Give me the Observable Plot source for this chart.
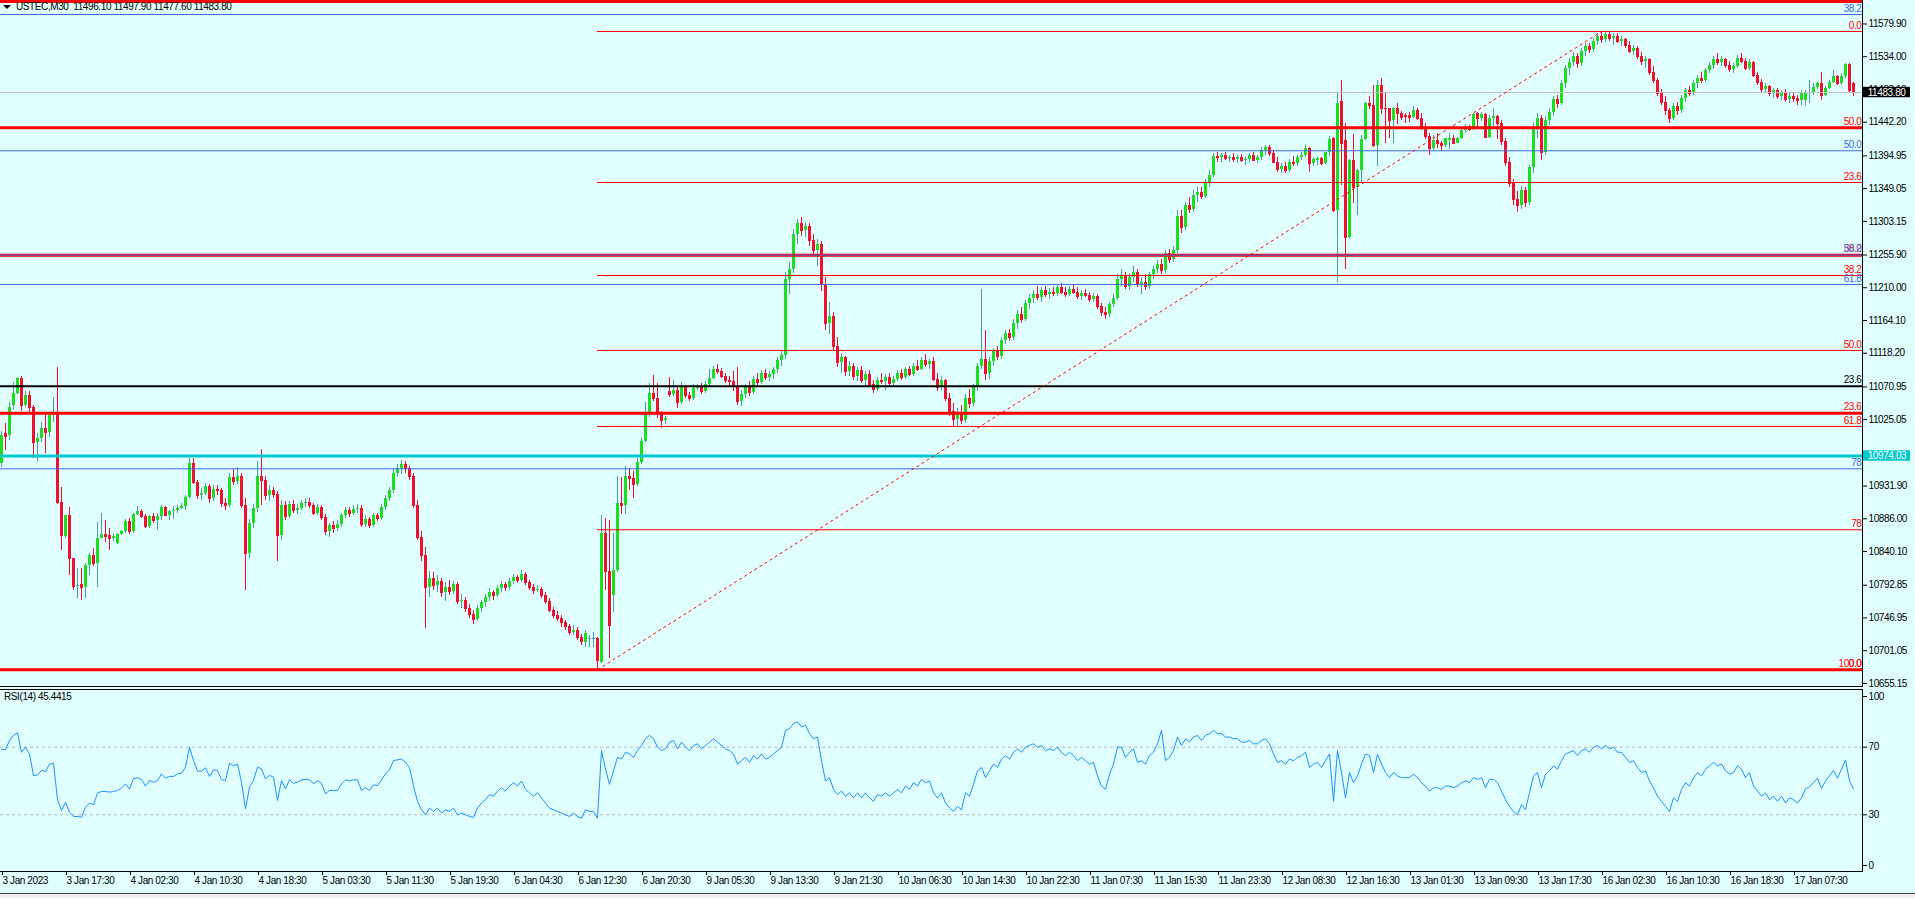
<!DOCTYPE html>
<html><head><meta charset="utf-8">
<script src="https://cdn.jsdelivr.net/npm/d3@7"></script>
<script src="https://cdn.jsdelivr.net/npm/@observablehq/plot@0.6"></script>
<style>
html,body{margin:0;padding:0;background:#e0ffff;}
#wrap{position:relative;width:1915px;height:898px;overflow:hidden;background:#e0ffff;font-family:"Liberation Sans",Arial,sans-serif;}
#main,#rsi{position:absolute;left:0;}
#main{top:0;} #rsi{top:689px;}
svg text{letter-spacing:-0.4px;}
.hdr{position:absolute;font-size:10px;color:#000;letter-spacing:-0.4px;white-space:pre;line-height:12px;}
.tri{position:absolute;left:3px;top:5px;width:0;height:0;border-left:4px solid transparent;border-right:4px solid transparent;border-top:4px solid #000;}
.ln{position:absolute;background:#000;}
</style></head>
<body><div id="wrap">
<div id="main"></div><div id="rsi"></div>
<div class="tri"></div>
<div class="hdr" id="title" style="left:16px;top:1px;"></div>
<div class="hdr" id="rsiTitle" style="left:4px;top:691px;"></div>
<div class="ln" style="left:0;top:686px;width:1863px;height:1px;"></div>
<div class="ln" style="left:0;top:689px;width:1863px;height:1px;"></div>
<div class="ln" style="left:0;top:871px;width:1863px;height:1px;"></div>
<div class="ln" style="left:1862px;top:0;width:1px;height:687px;"></div>
<div class="ln" style="left:1862px;top:689px;width:1px;height:183px;"></div>
<div style="position:absolute;left:0;top:893px;width:1915px;height:5px;background:#f0f0f0;border-top:1px solid #444;"></div>
</div>
<script>
// ---------- header ----------
const symbol = "USTEC,M30";
const lastOHLC = ["11496.10", "11497.90", "11477.60", "11483.80"];
const rsiName = "RSI(14)";
const rsiLast = "45.4415";

// ---------- M30 candles, one entry per bar (bar 0 = 3 Jan 09:30) ----------
const candleOpen = [
10963,11006,11003,11045,11062,11083,11045,11059,11042,10993,
10999,11013,11007,11031,11035,10909,10861,10890,10830,10792,
10794,10790,10820,10834,10823,10858,10864,10862,10858,10852,
10864,10868,10882,10868,10892,10896,10889,10875,10889,10883,
10889,10902,10891,10896,10898,10901,10903,10916,10964,10937,
10918,10922,10931,10914,10927,10925,10908,10905,10944,10938,
10946,10905,10838,10880,10900,10945,10940,10918,10925,10920,
10862,10905,10889,10906,10898,10901,10907,10909,10904,10894,
10902,10888,10868,10876,10872,10878,10890,10898,10893,10899,
10901,10878,10885,10877,10890,10887,10902,10914,10926,10950,
10956,10962,10956,10946,10905,10860,10834,10790,10802,10792,
10798,10782,10790,10784,10794,10770,10772,10760,10752,10745,
10760,10768,10775,10782,10779,10788,10794,10790,10798,10803,
10800,10808,10796,10790,10785,10787,10778,10770,10758,10750,
10746,10740,10735,10727,10730,10720,10712,10718,10718,10718,
10685,10865,10812,10778,10814,10907,10905,10946,10942,10934,
10965,10995,11032,11062,11055,11033,11024,11064,11060,11066,
11049,11072,11059,11054,11069,11072,11064,11074,11083,11095,
11092,11086,11080,11078,11072,11050,11060,11070,11063,11081,
11077,11090,11084,11088,11095,11108,11115,11222,11236,11285,
11300,11290,11296,11276,11262,11270,11215,11160,11170,11128,
11105,11112,11092,11100,11085,11094,11080,11088,11074,11068,
11080,11078,11084,11076,11082,11090,11084,11095,11089,11100,
11096,11108,11102,11106,11082,11070,11080,11055,11036,11025,
11034,11024,11055,11048,11070,11100,11110,11090,11106,11120,
11114,11136,11146,11140,11160,11172,11166,11188,11195,11200,
11196,11206,11200,11204,11202,11210,11204,11200,11208,11203,
11198,11202,11199,11194,11198,11184,11176,11172,11186,11195,
11222,11226,11212,11225,11232,11214,11218,11212,11228,11236,
11242,11234,11258,11250,11262,11310,11294,11325,11320,11340,
11344,11338,11358,11368,11394,11392,11395,11391,11393,11390,
11392,11388,11390,11395,11389,11392,11402,11406,11398,11386,
11376,11380,11374,11386,11384,11392,11396,11405,11384,11388,
11391,11384,11399,11419,11318,11471,11416,11280,11388,11351,
11374,11418,11469,11465,11409,11494,11462,11461,11445,11461,
11455,11452,11452,11449,11458,11447,11435,11422,11405,11416,
11413,11410,11417,11420,11413,11419,11431,11436,11432,11455,
11448,11453,11421,11447,11450,11441,11415,11386,11356,11334,
11325,11346,11330,11378,11432,11448,11400,11445,11456,11474,
11468,11496,11518,11526,11534,11524,11541,11548,11544,11556,
11562,11558,11565,11560,11563,11556,11558,11550,11542,11546,
11535,11527,11530,11512,11500,11482,11470,11458,11448,11464,
11458,11476,11486,11482,11496,11504,11500,11514,11522,11530,
11526,11530,11522,11516,11520,11532,11528,11518,11526,11508,
11498,11488,11492,11482,11486,11478,11482,11474,11478,11476,
11473,11473,11484,11484,11491,11496,11480,11490,11498,11506,
11496,11506,11523,11496.1];
const candleHigh = [
11008,11019,11049,11077,11084,11086,11065,11065,11045,11006,
11021,11034,11034,11056,11098,10930,10890,10902,10831,10816,
10816,10823,10838,10845,10881,10893,10884,10872,10866,10866,
10870,10885,10886,10893,10903,10899,10892,10891,10893,10893,
10905,10903,10898,10903,10905,10908,10918,10970,10970,10939,
10928,10936,10934,10932,10933,10928,10915,10950,10955,10958,
10950,10915,10885,10906,10966,10983,10946,10932,10930,10924,
10912,10910,10910,10912,10906,10912,10914,10914,10908,10906,
10905,10892,10880,10882,10884,10894,10902,10902,10904,10906,
10904,10890,10888,10894,10894,10906,10918,10930,10955,10962,
10968,10966,10960,10950,10912,10868,10846,10812,10810,10806,
10802,10796,10800,10798,10796,10780,10776,10766,10758,10764,
10772,10780,10788,10786,10792,10798,10797,10802,10808,10806,
10814,10810,10800,10794,10792,10790,10782,10774,10762,10756,
10750,10744,10738,10736,10733,10724,10730,10722,10727,10720,
10891,10886,10884,10865,10946,10944,10960,10957,10953,10971,
10998,11049,11076,11087,11076,11037,11030,11084,11080,11072,
11077,11073,11063,11075,11075,11076,11078,11096,11100,11102,
11097,11090,11085,11092,11098,11066,11075,11078,11085,11090,
11094,11096,11093,11098,11112,11120,11232,11246,11292,11306,
11308,11302,11300,11284,11278,11275,11225,11190,11175,11140,
11118,11114,11106,11104,11098,11100,11092,11094,11080,11084,
11090,11088,11090,11086,11094,11096,11098,11100,11104,11108,
11112,11116,11110,11112,11090,11086,11082,11062,11048,11040,
11045,11060,11068,11075,11104,11207,11150,11112,11125,11128,
11140,11150,11152,11165,11178,11182,11192,11200,11206,11212,
11210,11212,11209,11210,11214,11216,11210,11212,11214,11210,
11206,11208,11204,11202,11200,11188,11182,11190,11200,11228,
11236,11232,11230,11240,11236,11224,11228,11232,11240,11248,
11250,11262,11264,11268,11318,11318,11330,11336,11346,11350,
11350,11362,11374,11398,11400,11398,11400,11396,11398,11396,
11397,11394,11398,11399,11396,11406,11410,11410,11402,11392,
11384,11386,11390,11394,11396,11400,11410,11406,11392,11392,
11393,11400,11422,11421,11484,11501,11440,11390,11425,11376,
11423,11470,11478,11493,11500,11504,11484,11462,11463,11469,
11457,11454,11456,11464,11462,11455,11440,11427,11423,11427,
11415,11420,11426,11423,11421,11433,11439,11437,11454,11456,
11456,11454,11452,11461,11452,11445,11420,11392,11362,11345,
11352,11350,11382,11440,11455,11452,11450,11462,11478,11480,
11500,11522,11532,11540,11538,11545,11552,11553,11560,11566,
11569,11568,11569,11566,11566,11562,11560,11555,11550,11548,
11540,11534,11532,11520,11504,11488,11478,11462,11468,11470,
11480,11490,11492,11500,11508,11512,11518,11526,11534,11538,
11534,11532,11528,11524,11536,11538,11532,11530,11528,11512,
11502,11496,11494,11490,11490,11486,11488,11482,11484,11480,
11487,11486,11500,11496,11498,11512,11492,11500,11515,11508,
11510,11524,11524,11497.9];
const candleLow = [
10958,10982,10996,11039,11060,11036,11042,11034,10970,10967,
10993,10977,11000,11021,10906,10842,10858,10806,10785,10774,
10772,10774,10806,10819,10790,10858,10853,10842,10854,10850,
10862,10866,10864,10866,10891,10886,10873,10873,10880,10870,
10884,10889,10884,10885,10894,10899,10897,10914,10934,10913,
10912,10918,10908,10910,10918,10902,10898,10902,10932,10934,
10900,10786,10830,10872,10895,10905,10912,10910,10914,10826,
10855,10884,10886,10894,10892,10898,10902,10900,10890,10890,
10884,10862,10860,10866,10868,10874,10886,10888,10890,10894,
10874,10874,10872,10874,10882,10884,10898,10910,10922,10944,
10948,10950,10940,10900,10856,10826,10732,10776,10786,10782,
10776,10770,10778,10780,10766,10760,10754,10746,10738,10742,
10755,10762,10770,10772,10776,10782,10784,10786,10794,10795,
10797,10792,10786,10780,10782,10774,10766,10754,10746,10742,
10734,10730,10722,10722,10716,10708,10705,10706,10705,10674,
10683,10785,10690,10755,10810,10892,10892,10925,10915,10931,
10962,10993,11028,11050,11026,11013,11018,11056,11058,11041,
11046,11054,11050,11052,11066,11060,11062,11072,11081,11088,
11083,11076,11071,11064,11045,11044,11055,11058,11060,11072,
11074,11080,11078,11082,11090,11100,11110,11200,11230,11270,
11282,11280,11268,11255,11240,11205,11150,11145,11120,11098,
11090,11086,11085,11080,11078,11076,11072,11070,11062,11064,
11074,11066,11072,11070,11078,11080,11082,11085,11086,11092,
11094,11098,11095,11078,11064,11066,11050,11030,11016,11014,
11018,11020,11040,11044,11064,11096,11080,11082,11100,11108,
11110,11130,11134,11136,11152,11160,11162,11180,11188,11192,
11190,11196,11194,11198,11198,11200,11196,11198,11200,11194,
11192,11196,11190,11190,11180,11170,11166,11168,11182,11192,
11212,11208,11206,11218,11210,11200,11206,11208,11222,11230,
11228,11230,11244,11246,11258,11286,11290,11314,11316,11330,
11334,11335,11350,11364,11386,11385,11388,11385,11386,11384,
11386,11382,11386,11387,11384,11388,11396,11394,11384,11372,
11370,11370,11372,11380,11380,11388,11393,11371,11380,11382,
11382,11383,11394,11316,11218,11353,11235,11278,11328,11311,
11356,11416,11460,11407,11380,11453,11413,11420,11412,11439,
11444,11440,11442,11448,11444,11430,11418,11396,11402,11405,
11401,11407,11404,11412,11413,11418,11427,11429,11430,11432,
11443,11420,11419,11436,11418,11410,11380,11350,11325,11316,
11320,11322,11326,11370,11420,11388,11395,11438,11450,11462,
11465,11490,11508,11520,11518,11520,11534,11538,11540,11550,
11552,11554,11556,11550,11552,11548,11546,11538,11536,11530,
11522,11518,11508,11496,11478,11465,11452,11440,11444,11452,
11454,11470,11478,11480,11490,11496,11498,11510,11516,11522,
11520,11518,11512,11510,11518,11524,11514,11515,11505,11494,
11484,11482,11478,11476,11474,11472,11470,11468,11470,11466,
11466,11464,11468,11480,11488,11473,11478,11488,11496,11494,
11494,11504,11484,11477.6];
const candleClose = [
11003,11002,11042,11062,11083,11045,11059,11042,10993,10999,
11013,11007,11031,11035,10909,10863,10890,10830,10791,10792,
10790,10820,10834,10823,10858,10864,10861,10858,10861,10864,
10868,10882,10868,10892,10896,10889,10875,10889,10883,10889,
10902,10891,10896,10898,10901,10903,10916,10964,10937,10918,
10922,10931,10914,10927,10925,10908,10905,10944,10938,10946,
10905,10838,10880,10900,10945,10940,10918,10925,10920,10862,
10905,10889,10906,10898,10901,10907,10909,10904,10894,10902,
10888,10868,10876,10872,10878,10890,10898,10893,10899,10901,
10878,10885,10877,10890,10887,10902,10914,10926,10950,10956,
10962,10956,10946,10905,10860,10834,10790,10802,10792,10798,
10782,10790,10784,10794,10770,10772,10760,10752,10745,10760,
10768,10775,10782,10779,10788,10794,10790,10798,10803,10800,
10808,10796,10790,10785,10787,10778,10770,10758,10750,10746,
10740,10735,10727,10730,10720,10714,10725,10718,10718,10687,
10865,10812,10736,10814,10907,10905,10946,10942,10934,10965,
10995,11032,11062,11055,11033,11024,11027,11060,11066,11049,
11072,11059,11054,11069,11072,11064,11074,11083,11095,11092,
11086,11080,11078,11072,11050,11060,11070,11063,11081,11077,
11090,11084,11088,11095,11108,11115,11222,11236,11285,11300,
11290,11296,11276,11262,11270,11215,11160,11170,11128,11105,
11112,11092,11100,11085,11094,11080,11088,11074,11068,11080,
11078,11084,11076,11082,11090,11084,11095,11089,11100,11096,
11108,11102,11106,11082,11070,11080,11055,11036,11025,11034,
11024,11055,11048,11070,11100,11110,11090,11106,11120,11114,
11136,11146,11140,11160,11172,11166,11188,11195,11200,11196,
11206,11200,11204,11202,11210,11204,11200,11208,11203,11198,
11202,11199,11194,11198,11184,11176,11172,11186,11195,11222,
11226,11212,11225,11232,11214,11218,11212,11228,11236,11242,
11234,11258,11250,11262,11310,11294,11325,11320,11340,11344,
11338,11358,11368,11394,11392,11395,11391,11393,11390,11392,
11388,11390,11395,11389,11392,11402,11406,11398,11386,11376,
11380,11374,11386,11384,11392,11396,11405,11384,11390,11391,
11384,11399,11418,11318,11469,11412,11280,11388,11351,11374,
11418,11469,11465,11409,11494,11462,11461,11445,11461,11455,
11449,11450,11449,11458,11447,11435,11422,11405,11416,11413,
11410,11419,11420,11413,11419,11431,11435,11432,11453,11448,
11453,11421,11447,11450,11441,11415,11386,11356,11334,11325,
11346,11330,11378,11432,11448,11400,11445,11456,11474,11468,
11496,11518,11526,11534,11524,11541,11548,11544,11556,11562,
11558,11565,11560,11563,11556,11558,11550,11542,11546,11535,
11527,11530,11512,11500,11482,11470,11458,11448,11464,11458,
11476,11486,11482,11496,11504,11500,11514,11522,11530,11526,
11530,11522,11516,11520,11532,11528,11518,11526,11508,11498,
11488,11492,11482,11486,11478,11482,11474,11478,11476,11473,
11484,11482,11484,11491,11496,11480,11490,11498,11506,11496,
11506,11523,11487,11483.8];

// ---------- RSI(14), one value per bar ----------
const rsiValues = [
68.6,68.6,74,77,78.5,67,70,66,53.3,53.5,
56.4,55.6,60,60.4,39,32.5,37.5,31.5,29,29,
28.6,34.5,36.9,36,42.8,43.8,43.8,43.4,43.8,44.4,
45.7,48.3,45.3,51.3,51.9,50.9,47,50.3,49.3,50.3,
54.2,51.7,52.7,52.7,54.2,54.6,58.2,70,62.1,55.8,
55.8,57.8,52.7,56.6,56.2,50.7,50.3,60.5,59,60,
49.3,33.5,46.3,50.3,58.2,57.2,51.3,53.3,52.3,38.5,
50.3,45.3,50.7,48.7,49.3,50.7,51,50.7,48.3,50.3,
48.7,42.4,44.4,44.4,44.4,48.3,50.7,50,50.7,50.7,
44.4,46,44.4,47.7,47.3,50.7,54.2,56.6,62.1,62.5,
63,61,58,47,38,33,30,34,32,34,
31,33,32,34,30,31,30,29,28.5,34,
37,39,42,41,44,46,44,47,49,47,
50,45,43,41,43,40,37,34,33,32,
31,30,29,31,29,28,33,32,32,28,
68,57,48,56,64,63,67,66,64,68,
71,75,77,75,70,68,69,73,74,69,
73,70,68,71,72,69,71,73,75,73,
71,69,68,66,60,62,64,61,65,63,
66,63,64,66,68,70,80,81,84,85,
82,83,78,75,76,62,50,52,45,42,
44,41,43,40,43,40,43,40,38,42,
41,43,41,43,45,43,47,45,49,47,
51,49,50,43,40,43,37,34,32,35,
33,43,41,48,56,58,52,56,60,58,
63,65,63,67,69,67,70,71,72,70,
71,68,69,68,70,67,65,67,65,62,
64,62,60,61,53,47,45,54,60,70,
70,64,67,69,61,62,60,65,67,72,
80,62,64,68,76,71,75,73,76,77,
74,77,78,80,78,78,76,76,75,75,
73,73,74,72,72,74,75,72,66,61,
62,60,63,62,64,65,67,58,60,61,
58,62,66,38,68,55,40,55,49,53,
60,66,65,55,66,60,55,52,55,53,
52,52,52,54,52,49,47,44,46,46,
45,47,47,46,47,49,50,49,52,51,
52,46,51,51,49,44,39,35,32,30,
36,33,43,53,55,46,54,56,59,57,
62,66,67,68,65,68,69,67,70,71,
69,71,69,70,67,67,64,61,62,58,
55,56,50,46,41,38,35,32,40,38,
45,49,47,52,55,53,57,59,61,59,
60,56,54,55,59,57,52,55,47,44,
41,43,39,41,38,41,37,40,39,37,
40,45.5,46.5,49,51.7,45.5,50,53,56.2,51.7,
57,62.5,50,45.4];

// ---------- horizontal objects ----------
const current = 11483.80;
const thickRedPrices = [11611.5, 11434.3, 11255.7, 11034.1, 10674.3];
const thickRedLabels = ["61.8", "50.0", "38.2", "23.6", "0.0"];
const fibRedPrices = [11569.4, 11357.6, 11227.2, 11122.1, 11015.5, 10870.6, 10674.3];
const fibRedLabels = ["0.0", "23.6", "38.2", "50.0", "61.8", "78", "100.0"];
const fibLowBar = 149, fibLowPrice = 10674.3, fibHighBar = 400, fibHighPrice = 11569.4;
const blueFibPrices = [11593.2, 11402.1, 11255.7, 11214.6, 10956.1];
const blueFibLabels = ["38.2", "50.0", "50.0", "61.8", "78"];
const blackLinePrice = 11072.0, blackLineLabel = "23.6";
const cyanLinePrice = 10974.03;

// ---------- axes ----------
const priceTicks = [11579.90,11534.00,11488.10,11442.20,11394.95,11349.05,11303.15,11255.90,11210.00,11164.10,11118.20,11070.95,11025.05,10931.90,10886.00,10840.10,10792.85,10746.95,10701.05,10655.15];
const rsiTicks = [100, 70, 30, 0];
const rsiLevels = [70, 30];
const timeLabels = ["3 Jan 2023","3 Jan 17:30","4 Jan 02:30","4 Jan 10:30","4 Jan 18:30","5 Jan 03:30","5 Jan 11:30","5 Jan 19:30","6 Jan 04:30","6 Jan 12:30","6 Jan 20:30","9 Jan 05:30","9 Jan 13:30","9 Jan 21:30","10 Jan 06:30","10 Jan 14:30","10 Jan 22:30","11 Jan 07:30","11 Jan 15:30","11 Jan 23:30","12 Jan 08:30","12 Jan 16:30","13 Jan 01:30","13 Jan 09:30","13 Jan 17:30","16 Jan 02:30","16 Jan 10:30","16 Jan 18:30","17 Jan 07:30"];
const barsPerLabel = 16;

// ---------- build ----------
document.getElementById("title").textContent = symbol + "  " + lastOHLC.join(" ");
document.getElementById("rsiTitle").textContent = rsiName + " " + rsiLast;

const bars = candleClose.map((c, i) => ({i, o: candleOpen[i], h: candleHigh[i], l: candleLow[i], c}));
const UP = "#20dc20", WICK_UP = "#4f9ea6", DN = "#ee1030";
const wickColor = d => d.c < d.o ? DN : WICK_UP;
const bodyColor = d => d.c > d.o ? UP : d.c < d.o ? DN : WICK_UP;

const xDomain = [-0.25, 465.25];
const yDomain = [10646.6, 11612.85];
const font = {fontFamily: "'Liberation Sans', Arial, sans-serif", fontSize: "10px", background: "transparent", color: "#000", overflow: "visible"};
const RED = "#ff0000", BLUE = "#4169e1";
const lastX = xDomain[1];
// a level's label sits just above its line; labels whose text would fall above the window are not drawn
const lbl = (prices, labels, color) => Plot.text(
  prices.map((p, k) => ({p, t: labels[k]})).filter(d => d.p < yDomain[1] - 10),
  {x: lastX, y: "p", text: "t", fill: color, textAnchor: "end", dx: -1, dy: -6, fontSize: 10});

const main = Plot.plot({
  width: 1915, height: 689, marginLeft: 0, marginRight: 53, marginTop: 0, marginBottom: 0,
  x: {domain: xDomain, axis: null},
  y: {domain: yDomain, axis: null},
  style: font,
  marks: [
    Plot.ruleX(bars, {x: "i", y1: "l", y2: "h", stroke: wickColor, strokeWidth: 1, shapeRendering: "crispEdges"}),
    Plot.rect(bars, {x1: d => d.i - 0.25, x2: d => d.i + 0.5, y1: "o", y2: "c", fill: bodyColor, shapeRendering: "crispEdges"}),
    Plot.ruleY(bars, {y: "c", x1: d => d.i - 0.25, x2: d => d.i + 0.5, stroke: bodyColor, shapeRendering: "crispEdges"}),
    Plot.ruleY([current], {stroke: "#c0c0c0"}),
    Plot.ruleY(fibRedPrices, {x1: fibLowBar, x2: lastX, stroke: RED, strokeWidth: 1}),
    Plot.ruleY(thickRedPrices, {stroke: RED, strokeWidth: 3}),
    Plot.ruleY(blueFibPrices, {stroke: BLUE, strokeWidth: 1}),
    Plot.ruleY([blackLinePrice], {stroke: "#000", strokeWidth: 2}),
    Plot.ruleY([cyanLinePrice], {stroke: "#00c8cc", strokeWidth: 3}),
    Plot.link([0], {x1: fibLowBar, y1: fibLowPrice, x2: fibHighBar, y2: fibHighPrice, stroke: RED, strokeDasharray: "3,3"}),
    lbl(thickRedPrices, thickRedLabels, RED),
    lbl(fibRedPrices, fibRedLabels, RED),
    lbl(blueFibPrices, blueFibLabels, BLUE),
    lbl([blackLinePrice], [blackLineLabel], "#000"),
    Plot.axisY({anchor: "right", label: null, ticks: priceTicks, tickFormat: d => d.toFixed(2), tickSize: 4, tickPadding: 2, fontSize: 10}),
    Plot.rect([current], {x1: lastX + 0.05, x2: lastX + 12, y1: d => d - 7.3, y2: d => d + 7.3, fill: "#000", clip: false}),
    Plot.text([current], {x: lastX + 1.3, y: d => d, text: d => d.toFixed(2), fill: "#fff", textAnchor: "start", fontSize: 10, clip: false}),
    Plot.rect([cyanLinePrice], {x1: lastX + 0.05, x2: lastX + 12, y1: d => d - 7.3, y2: d => d + 7.3, fill: "#00c8cc", clip: false}),
    Plot.text([cyanLinePrice], {x: lastX + 1.3, y: d => d, text: d => d.toFixed(2), fill: "#fff", textAnchor: "start", fontSize: 10, clip: false})
  ]
});
document.getElementById("main").appendChild(main);

const rsiData = rsiValues.map((v, i) => ({i, v}));
const tickBars = timeLabels.map((t, k) => k * barsPerLabel);
const rsi = Plot.plot({
  width: 1915, height: 209, marginLeft: 0, marginRight: 53, marginTop: 0, marginBottom: 27,
  x: {domain: xDomain, axis: null},
  y: {domain: [-3.55, 104.14], axis: null},
  style: font,
  marks: [
    Plot.ruleY(rsiLevels, {stroke: "#b8b8b8", strokeDasharray: "3,3"}),
    Plot.line(rsiData, {x: "i", y: "v", stroke: "#1e90ff", strokeWidth: 1}),
    Plot.axisY({anchor: "right", label: null, ticks: rsiTicks, tickSize: 4, tickPadding: 2, fontSize: 10}),
    Plot.axisX({anchor: "bottom", label: null, ticks: tickBars, tickFormat: (d, k) => timeLabels[k], tickSize: 4, tickPadding: 1, textAnchor: "start", dx: 1, fontSize: 10})
  ]
});
document.getElementById("rsi").appendChild(rsi);
</script>
</body></html>
